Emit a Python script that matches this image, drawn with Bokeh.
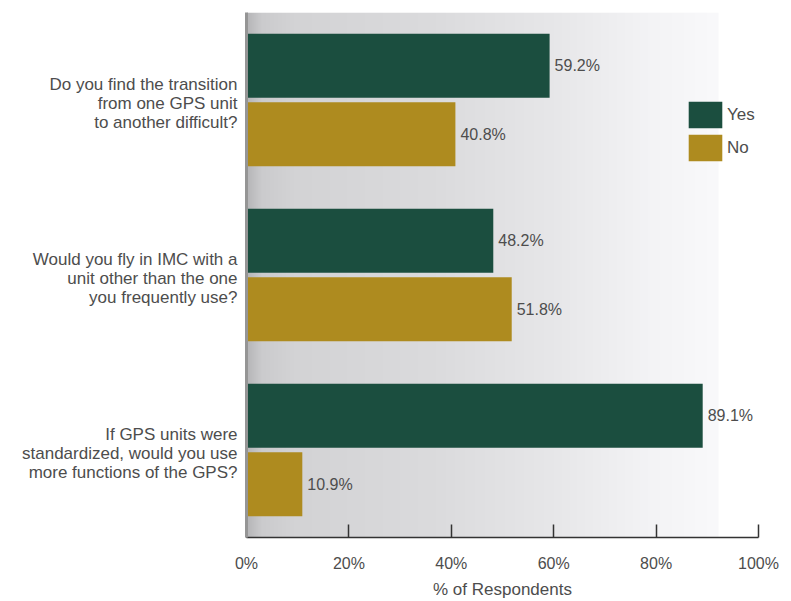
import numpy as np
from bokeh.plotting import figure
from bokeh.models import (ColumnDataSource, Range1d, FixedTicker, Legend, LegendItem)
from bokeh.embed import file_html
from bokeh.resources import INLINE

# ---- data ----
questions = [
    "Do you find the transition\nfrom one GPS unit\nto another difficult?",
    "Would you fly in IMC with a\nunit other than the one\nyou frequently use?",
    "If GPS units were\nstandardized, would you use\nmore functions of the GPS?",
]
series_names = ["Yes", "No"]
yes_vals = [59.2, 48.2, 89.1]
no_vals = [40.8, 51.8, 10.9]
tick_vals = [0, 20, 40, 60, 80, 100]
tick_labels = ["0%", "20%", "40%", "60%", "80%", "100%"]

# ---- style ----
YES_COLOR = "#1b4e3f"
NO_COLOR = "#ae8b1f"
TEXT_COLOR = "#4d4d4d"
FONT = "Liberation Sans"
X_BG = 92.2          # right edge of the shaded area (in % units)
n = len(questions)
centers = [n - 0.5 - i for i in range(n)]
label_pos = [c - 0.02 for c in centers]
offset = 0.196
bar_h = 0.365

p = figure(width=791, height=601, output_backend="svg", toolbar_location=None,
           x_range=Range1d(0, 100), y_range=Range1d(0, n),
           min_border_left=246, min_border_right=33, min_border_top=12,
           min_border_bottom=63)
p.outline_line_color = None
p.grid.visible = False
p.background_fill_color = "white"
p.border_fill_color = "white"

# gradient background
stops_x = [0.0, 0.03, 0.1, 0.4, 0.65, 0.85, 1.0]
stops_v = [182, 203, 211, 219, 231, 243, 249]
N = 480
xs = np.linspace(0, 1, N)
g = np.interp(xs, stops_x, stops_v).astype(np.uint8)
img = np.zeros((1, N), dtype=np.uint32)
view = img.view(dtype=np.uint8).reshape((1, N, 4))
view[0, :, 0] = g
view[0, :, 1] = g
view[0, :, 2] = np.clip(g.astype(int) + 2, 0, 255).astype(np.uint8)
view[0, :, 3] = 255
p.image_rgba(image=[img], x=0, y=0, dw=X_BG, dh=n)

yes_src = ColumnDataSource(dict(y=[c + offset for c in centers], v=yes_vals,
                                t=[f"{v}%" for v in yes_vals]))
no_src = ColumnDataSource(dict(y=[c - offset for c in centers], v=no_vals,
                               t=[f"{v}%" for v in no_vals]))

r_yes = p.hbar(y="y", right="v", left=0, height=bar_h, source=yes_src,
               fill_color=YES_COLOR, line_color=None)
r_no = p.hbar(y="y", right="v", left=0, height=bar_h, source=no_src,
              fill_color=NO_COLOR, line_color=None)

for src in (yes_src, no_src):
    p.text(x="v", y="y", text="t", source=src, x_offset=5, text_align="left",
           text_baseline="middle", text_font_size="16px", text_color=TEXT_COLOR,
           text_font={"value": FONT})

# y axis: question texts
yax = p.yaxis[0]
yax.ticker = FixedTicker(ticks=label_pos)
yax.major_label_overrides = {t: q for t, q in zip(label_pos, questions)}
yax.major_tick_line_color = None
yax.minor_tick_line_color = None
yax.axis_line_color = "#959595"
yax.axis_line_width = 3
yax.major_label_standoff = 3
yax.major_label_text_font = FONT
yax.major_label_text_font_size = "17px"
yax.major_label_text_color = TEXT_COLOR
yax.major_label_text_line_height = 1.0

# x axis
ax = p.xaxis[0]
ax.ticker = FixedTicker(ticks=tick_vals)
ax.major_label_overrides = {t: l for t, l in zip(tick_vals, tick_labels)}
ax.axis_line_color = "#333333"
ax.axis_line_width = 1.5
ax.major_tick_in = 13
ax.major_tick_out = 0
ax.major_tick_line_color = "#333333"
ax.major_tick_line_width = 1.5
ax.minor_tick_line_color = None
ax.major_label_standoff = 17
ax.major_label_text_font = FONT
ax.major_label_text_font_size = "16px"
ax.major_label_text_color = TEXT_COLOR
ax.axis_label = "% of Respondents"
ax.axis_label_standoff = 5
ax.axis_label_text_font = FONT
ax.axis_label_text_font_size = "17px"
ax.axis_label_text_font_style = "normal"
ax.axis_label_text_color = TEXT_COLOR

legend = Legend(items=[LegendItem(label=series_names[0], renderers=[r_yes]),
                       LegendItem(label=series_names[1], renderers=[r_no])],
                location=(438, 373), glyph_width=42, glyph_height=33, spacing=-1,
                label_standoff=1, padding=0, margin=0, border_line_color=None,
                background_fill_alpha=0, label_text_font=FONT,
                label_text_font_size="17px", label_text_color=TEXT_COLOR)
p.add_layout(legend, "center")

open("out.html", "w").write(file_html(p, INLINE))
